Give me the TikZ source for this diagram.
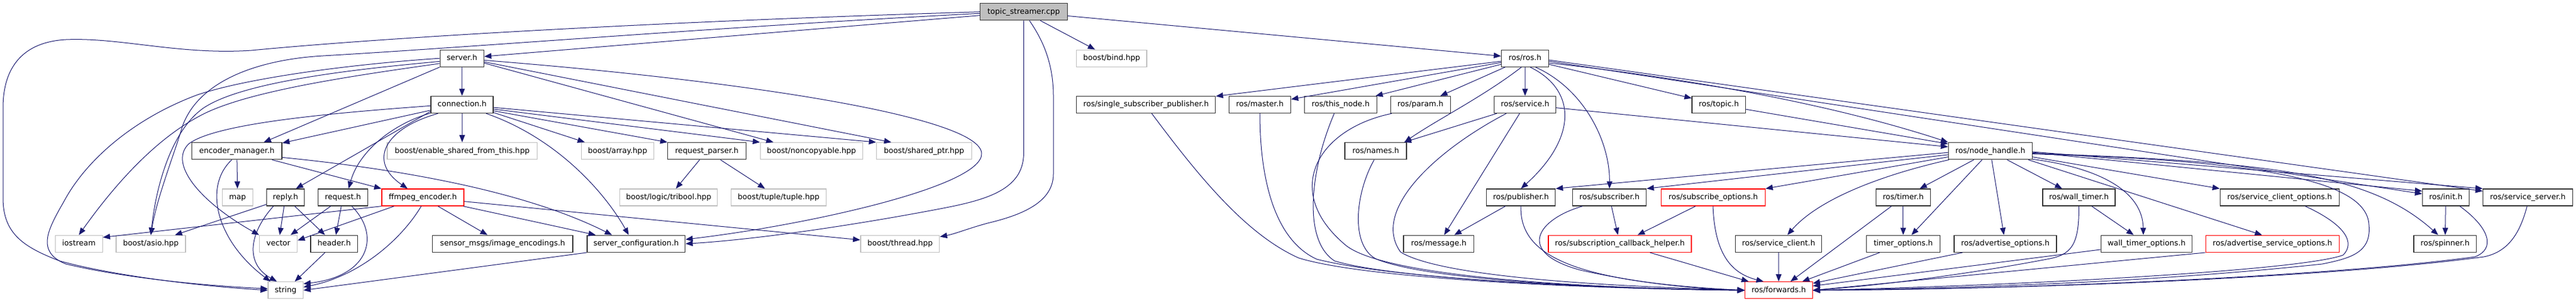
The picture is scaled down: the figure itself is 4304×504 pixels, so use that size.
\documentclass[tikz,border=0pt]{standalone}
\usepackage{fontspec}
\setmainfont{DejaVu Sans}
\usetikzlibrary{arrows.meta}
\definecolor{edgec}{HTML}{191970}
\definecolor{sysgray}{HTML}{BFBFBF}
\definecolor{rootfill}{HTML}{BFBFBF}
\begin{document}
\begin{tikzpicture}[x=0.75pt,y=-0.75pt,
  inc/.style={draw=black!80, line width=1pt, fill=white, minimum height=21pt, inner sep=0pt,
              text height=7pt, text depth=2pt, font=\fontsize{9.5}{11}\selectfont},
  sys/.style={inc, draw=sysgray},
  redinc/.style={inc, draw=red},
  rootinc/.style={inc, fill=rootfill},
  bw/.style={minimum width=#1*0.75pt},
  dep/.style={draw=edgec, line width=0.75pt, -{Triangle[length=9pt,width=7pt]}}]
\useasboundingbox (0,0) rectangle (4304,504);
\fill[white] (0,0) rectangle (4304,504);
% ---------- nodes ----------
\node[rootinc,bw=145.7] (T) at (1710.4,19.7) {topic\_streamer.cpp};
\node[inc,bw=73] (server) at (771.8,97.2) {server.h};
\node[sys,bw=117.4] (bind) at (1857.4,97.2) {boost/bind.hpp};
\node[inc,bw=79] (ros) at (2548,97.2) {ros/ros.h};
\node[inc,bw=104.3] (conn) at (772,174.5) {connection.h};
\node[inc,bw=232] (ssp) at (1914.8,174.5) {ros/single\_subscriber\_publisher.h};
\node[inc,bw=103] (master) at (2105,174.5) {ros/master.h};
\node[inc,bw=120.5] (thisnode) at (2239.9,174.5) {ros/this\_node.h};
\node[inc,bw=100.2] (param) at (2373.3,174.5) {ros/param.h};
\node[inc,bw=102.6] (service) at (2548.1,174.5) {ros/service.h};
\node[inc,bw=89.6] (topic) at (2871.8,174.5) {ros/topic.h};
\node[inc,bw=150.8] (enc) at (395.7,251.7) {encoder\_manager.h};
\node[sys,bw=250.7] (esft) at (772.2,251.7) {boost/enable\_shared\_from\_this.hpp};
\node[sys,bw=121.2] (array) at (1031.8,251.7) {boost/array.hpp};
\node[inc,bw=130.5] (rparser) at (1181,251.7) {request\_parser.h};
\node[sys,bw=170.8] (noncopy) at (1355.8,251.7) {boost/noncopyable.hpp};
\node[sys,bw=159] (sptr) at (1543.9,251.7) {boost/shared\_ptr.hpp};
\node[inc,bw=103] (names) at (2298.6,251.7) {ros/names.h};
\node[inc,bw=140] (nh) at (3325.4,251.7) {ros/node\_handle.h};
\node[sys,bw=50.6] (map) at (396.9,329) {map};
\node[inc,bw=62.6] (reply) at (477,329) {reply.h};
\node[inc,bw=82.7] (request) at (573,329) {request.h};
\node[redinc,bw=137] (ffmpeg) at (706.4,329) {ffmpeg\_encoder.h};
\node[sys,bw=163.2] (tribool) at (1117.2,329) {boost/logic/tribool.hpp};
\node[sys,bw=158.8] (tuple) at (1300.9,329) {boost/tuple/tuple.hpp};
\node[inc,bw=115] (pub) at (2541.2,329) {ros/publisher.h};
\node[inc,bw=123] (sub) at (2689.1,329) {ros/subscriber.h};
\node[redinc,bw=173.6] (subopt) at (2862.5,329) {ros/subscribe\_options.h};
\node[inc,bw=90.5] (timer) at (3179.9,329) {ros/timer.h};
\node[inc,bw=121.2] (wtimer) at (3473.4,329) {ros/wall\_timer.h};
\node[inc,bw=199.2] (sco) at (3808.9,329) {ros/service\_client\_options.h};
\node[inc,bw=77.7] (init) at (4086.4,329) {ros/init.h};
\node[inc,bw=149.7] (sserver) at (4223.5,329) {ros/service\_server.h};
\node[sys,bw=78.9] (iostream) at (131.8,406.3) {iostream};
\node[sys,bw=116.1] (asio) at (252,406.3) {boost/asio.hpp};
\node[sys,bw=63] (vector) at (465.1,406.3) {vector};
\node[inc,bw=78.8] (header) at (558.4,406.3) {header.h};
\node[inc,bw=234.6] (sensor) at (839.8,406.3) {sensor\_msgs/image\_encodings.h};
\node[inc,bw=163.9] (sc) at (1062.8,406.3) {server\_configuration.h};
\node[sys,bw=131.9] (thread) at (1503.8,406.3) {boost/thread.hpp};
\node[inc,bw=117.8] (message) at (2403.8,406.3) {ros/message.h};
\node[redinc,bw=239] (sch) at (2706.5,406.3) {ros/subscription\_callback\_helper.h};
\node[inc,bw=144] (sclient) at (2971.7,406.3) {ros/service\_client.h};
\node[inc,bw=122.9] (topt) at (3179.9,406.3) {timer\_options.h};
\node[inc,bw=170.9] (aopt) at (3350.5,406.3) {ros/advertise\_options.h};
\node[inc,bw=152.2] (wtopt) at (3586.4,406.3) {wall\_timer\_options.h};
\node[redinc,bw=223.3] (asopt) at (3796.9,406.3) {ros/advertise\_service\_options.h};
\node[inc,bw=104.2] (spinner) at (4085.2,406.3) {ros/spinner.h};
\node[sys,bw=58.3] (string) at (477.2,483.8) {string};
\node[redinc,bw=112.7] (fwd) at (2971.9,483.8) {ros/forwards.h};
% ---------- edges: topic_streamer.cpp ----------
\draw[dep] (T) -- (server);
\draw[dep] (T) -- (bind);
\draw[dep] (T) -- (ros);
\draw[dep] (T.west) .. controls (1100,36) and (650,62) .. (420,84) .. controls (300,92) and (200,62) .. (110,66) .. controls (40,70) and (5,110) .. (5,180) -- (5,330) .. controls (5,390) and (40,412) .. (100,435) .. controls (200,462) and (350,478) .. (string.west);
\draw[dep] (T.-178) .. controls (1200,45) and (800,78) .. (540,93) .. controls (420,100) and (330,140) .. (305,210) .. controls (290,260) and (262,330) .. (asio.north);
\draw[dep] (T.south) -- (1710.4,255) .. controls (1710.4,320) and (1640,335) .. (1560,350) .. controls (1400,380) and (1250,400) .. (sc.east);
\draw[dep] (T.-57) .. controls (1745,70) and (1760,110) .. (1760,160) -- (1760,290) .. controls (1760,340) and (1700,360) .. (1650,372) .. controls (1620,380) and (1595,390) .. (thread.10);
% ---------- server.h ----------
\draw[dep] (server) -- (conn);
\draw[dep] (server.west) .. controls (600,106) and (420,128) .. (330,158) .. controls (230,195) and (150,260) .. (110,330) .. controls (85,375) and (55,418) .. (110,440) .. controls (220,466) and (360,477) .. (string.175);
\draw[dep] (server.-172) .. controls (560,118) and (400,140) .. (340,180) .. controls (290,215) and (262,300) .. (asio.north);
\draw[dep] (server.-167) .. controls (600,125) and (420,150) .. (340,190) .. controls (260,230) and (190,310) .. (iostream.north);
\draw[dep] (server.south west) -- (enc.18);
\draw[dep] (server.-12) -- (noncopy.167);
\draw[dep] (server.-9) -- (sptr.165);
\draw[dep] (server.-5) .. controls (1250,135) and (1635,195) .. (1640,255) .. controls (1645,310) and (1350,375) .. (sc.5);
% ---------- connection.h ----------
\draw[dep] (conn) -- (esft);
\draw[dep] (conn.-170) -- (enc.10);
\draw[dep] (conn.-178) .. controls (560,188) and (360,205) .. (315,240) .. controls (280,275) and (340,340) .. (vector.north west);
\draw[dep] (conn.-168) -- (reply.40);
\draw[dep] (conn.-165) .. controls (660,205) and (600,250) .. (request.57);
\draw[dep] (conn.-160) .. controls (640,215) and (615,270) .. (ffmpeg.150);
\draw[dep] (conn.-5) -- (sptr.north west);
\draw[dep] (conn.-8) -- (noncopy.north west);
\draw[dep] (conn.-11) -- (rparser.north west);
\draw[dep] (conn.-14) -- (array.165);
\draw[dep] (conn.-20) .. controls (930,230) and (1010,320) .. (sc.130);
% ---------- encoder_manager.h ----------
\draw[dep] (enc) -- (map);
\draw[dep] (enc.-120) .. controls (340,310) and (360,400) .. (string.150);
\draw[dep] (enc.-14) -- (ffmpeg.north west);
\draw[dep] (enc.-8) .. controls (650,280) and (870,315) .. (sc.160);
% ---------- reply.h / request.h / header.h ----------
\draw[dep] (reply.-160) -- (asio.20);
\draw[dep] (reply) -- (vector);
\draw[dep] (reply) -- (header);
\draw[dep] (reply.-144) .. controls (415,390) and (410,440) .. (string.135);
\draw[dep] (request) -- (vector);
\draw[dep] (request) -- (header);
\draw[dep] (request.-45) .. controls (635,390) and (620,460) .. (string.20);
\draw[dep] (header) -- (string);
% ---------- ffmpeg_encoder.h ----------
\draw[dep] (ffmpeg.south west) -- (iostream.15);
\draw[dep] (ffmpeg.-163) -- (vector.10);
\draw[dep] (ffmpeg.-100) .. controls (670,400) and (600,460) .. (string.10);
\draw[dep] (ffmpeg) -- (sensor);
\draw[dep] (ffmpeg) -- (sc);
\draw[dep] (ffmpeg) -- (thread);
\draw[dep] (sc.south west) -- (string.east);
\draw[dep] (rparser) -- (tribool);
\draw[dep] (rparser) -- (tuple);
% ---------- ros/ros.h ----------
\draw[dep] (ros) -- (ssp);
\draw[dep] (ros) -- (master);
\draw[dep] (ros) -- (thisnode);
\draw[dep] (ros) -- (param);
\draw[dep] (ros.-112) .. controls (2480,160) and (2400,200) .. (names.17);
\draw[dep] (ros) -- (service);
\draw[dep] (ros.-60) .. controls (2635,150) and (2635,230) .. (pub.north);
\draw[dep] (ros.-40) .. controls (2650,150) and (2690,240) .. (sub.north);
\draw[dep] (ros.-14) -- (topic);
\draw[dep] (ros.-11) .. controls (2800,128) and (3050,170) .. (nh.north west);
\draw[dep] (ros.-7) -- (init);
\draw[dep] (ros.-4) -- (sserver);
% ---------- ros/service.h etc ----------
\draw[dep] (service) -- (names);
\draw[dep] (service) -- (message);
\draw[dep] (service) -- (nh);
\draw[dep] (service.-155) .. controls (2400,250) and (2290,350) .. (2340,420) .. controls (2420,470) and (2800,480) .. (fwd.west);
\draw[dep] (topic) -- (nh);
\draw[dep] (pub) -- (message);
\draw[dep] (pub.south) .. controls (2538,430) and (2640,470) .. (fwd.west);
\draw[dep] (sub) -- (sch);
\draw[dep] (sub.-162) .. controls (2570,365) and (2530,420) .. (2640,450) .. controls (2750,475) and (2850,482) .. (fwd.west);
\draw[dep] (subopt) -- (sch);
\draw[dep] (subopt.-92) .. controls (2865,420) and (2890,455) .. (fwd.150);
\draw[dep] (sch) -- (fwd);
\draw[dep] (sclient) -- (fwd);
\draw[dep] (master.south) .. controls (2105,300) and (2130,400) .. (2200,432) .. controls (2350,470) and (2750,482) .. (fwd.west);
\draw[dep] (ssp.-57) .. controls (2000,290) and (2080,390) .. (2170,430) .. controls (2300,470) and (2750,483) .. (fwd.west);
\draw[dep] (thisnode.-126) .. controls (2190,280) and (2175,400) .. (2230,435) .. controls (2350,470) and (2750,482) .. (fwd.west);
\draw[dep] (param.-163) .. controls (2200,215) and (2140,320) .. (2250,410) .. controls (2330,470) and (2750,482) .. (fwd.west);
\draw[dep] (names.-100) .. controls (2265,320) and (2255,410) .. (2300,432) .. controls (2400,472) and (2750,482) .. (fwd.west);
% ---------- ros/node_handle.h ----------
\draw[dep] (nh.-178) -- (pub.north east);
\draw[dep] (nh.-175) -- (sub.north east);
\draw[dep] (nh.-172) -- (subopt.north east);
\draw[dep] (nh.-168) .. controls (3150,290) and (3040,330) .. (sclient.45);
\draw[dep] (nh) -- (timer);
\draw[dep] (nh) -- (topt);
\draw[dep] (nh) -- (aopt);
\draw[dep] (nh) -- (wtimer);
\draw[dep] (nh.-11) .. controls (3510,280) and (3580,320) .. (wtopt.110);
\draw[dep] (nh.-13) -- (asopt.140);
\draw[dep] (nh.-8) -- (sco.north west);
\draw[dep] (nh.-2) -- (init.165);
\draw[dep] (nh.-1) -- (sserver.north west);
\draw[dep] (nh.-3) .. controls (3800,270) and (3960,290) .. (spinner.128);
\draw[dep] (nh.-4) .. controls (3800,268) and (3955,305) .. (3958,375) .. controls (3962,420) and (3930,430) .. (3880,440) .. controls (3600,470) and (3300,480) .. (fwd.east);
% ---------- lower right ----------
\draw[dep] (wtimer) -- (wtopt);
\draw[dep] (wtimer.south) .. controls (3474,410) and (3460,425) .. (3420,432) .. controls (3300,455) and (3150,475) .. (fwd.east);
\draw[dep] (timer) -- (topt);
\draw[dep] (timer) -- (fwd);
\draw[dep] (topt) -- (fwd);
\draw[dep] (aopt) -- (fwd);
\draw[dep] (wtopt) -- (fwd);
\draw[dep] (asopt.south west) -- (fwd.east);
\draw[dep] (sco.-19) .. controls (3920,375) and (3935,405) .. (3915,425) .. controls (3850,450) and (3400,475) .. (fwd.east);
\draw[dep] (init) -- (spinner);
\draw[dep] (init.-32) .. controls (4160,380) and (4170,415) .. (4135,428) .. controls (3900,460) and (3400,482) .. (fwd.east);
\draw[dep] (sserver.-95) .. controls (4210,390) and (4190,420) .. (4150,428) .. controls (3900,462) and (3400,482) .. (fwd.east);
\end{tikzpicture}
\end{document}
